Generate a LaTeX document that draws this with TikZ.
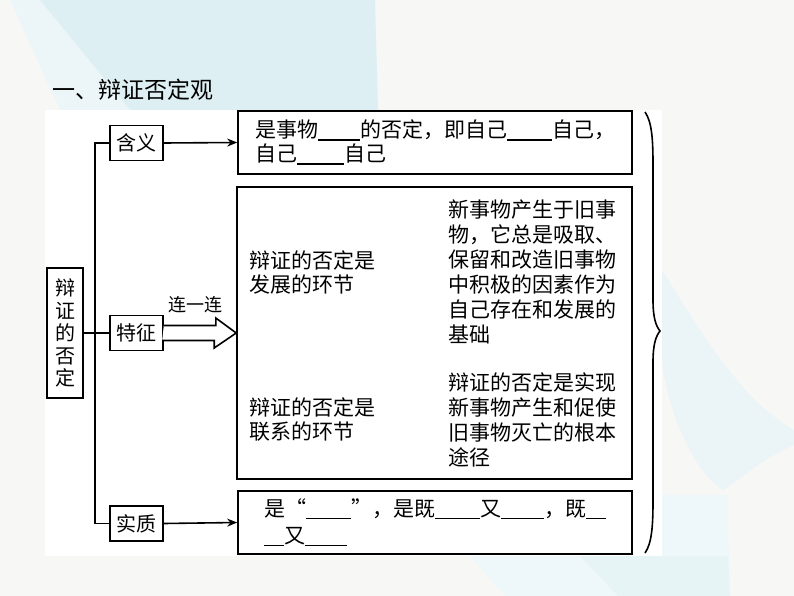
\documentclass[tikz,border=0pt]{standalone}
\usepackage{fontspec}
\setmainfont{Noto Sans CJK SC}
\usetikzlibrary{arrows.meta, positioning}
\definecolor{bggrey}{RGB}{247, 247, 245}
\definecolor{swoosh}{RGB}{221, 239, 242}
\newcommand{\blank}[1]{\rule[-3pt]{#1pt}{1.6pt}}

\begin{document}
\begin{tikzpicture}[
    x=1pt, y=-1pt,
    >=Stealth,
    catbox/.style={draw, line width=1.6pt, minimum width=53pt, minimum height=35pt, inner sep=0pt, font=\fontsize{20}{22}\selectfont},
    contentbox/.style={draw, line width=1.6pt, minimum width=394pt, minimum height=63pt, align=left, inner sep=0pt, font=\fontsize{21}{24}\selectfont},
    txt/.style={anchor=west, align=left, inner sep=0pt, font=\fontsize{21}{24}\selectfont},
    link/.style={line width=1.6pt},
    arrow/.style={-{Stealth[length=10pt, width=8pt]}, line width=1.6pt}
]

% === Fondo ===
\fill[bggrey] (0,0) rectangle (794,596);
\useasboundingbox (0,0) rectangle (794,596);
\fill[swoosh!55] (10,0) -- (40,0) -- (130,110) -- (60,110) -- cycle;
\fill[swoosh] (40,0) -- (375,0) -- (378,110) -- (130,110) -- cycle;
\fill[swoosh!60] (662,270) .. controls (700,330) and (740,400) .. (794,430) -- (794,445)
    .. controls (760,460) and (740,480) .. (723,490) .. controls (690,470) and (665,400) .. (662,360) -- cycle;
\fill[swoosh!50] (662,495) -- (727,495) -- (730,596) -- (505,596) -- (470,556) -- (662,556) -- cycle;
\fill[swoosh!70] (580,556) -- (728,556) -- (730,596) -- (618,596) -- cycle;

% Titulo
\node[anchor=west, inner sep=0pt, font=\fontsize{23}{23}\selectfont] (title) at (52,90) {一、辩证否定观};

% Panel blanco
\fill[white] (45,110) rectangle (662,556);

% === Nodos ===
\node[draw, line width=1.6pt, minimum width=36pt, minimum height=130pt, inner sep=0pt, align=center, font=\fontsize{20}{22.5}\selectfont] (root) at (65,333) {辩\\证\\的\\否\\定};

\node[catbox] (hanyi) at (136.5,143) {含义};
\node[catbox] (tezheng) at (136.5,333) {特征};
\node[catbox] (shizhi) at (136.5,523.5) {实质};

\node[contentbox] (def) at (435,142.5) {是事物\blank{42}的否定，即自己\blank{45}自己，\\自己\blank{47}自己};
\node[draw, line width=1.6pt, minimum width=395pt, minimum height=292pt, inner sep=0pt] (feat) at (434.5,333) {};
\node[contentbox, font=\fontsize{21}{27}\selectfont] (ess) at (435,522.5) {是“\blank{45}”，是既\blank{45}又\blank{43}，既\blank{20}\\\blank{20}又\blank{42}};

% Contenido del recuadro central
\node[txt] (fazhan) at (249,272) {辩证的否定是\\发展的环节};
\node[txt] (lianxi) at (249,420) {辩证的否定是\\联系的环节};
\node[txt, font=\fontsize{21}{25}\selectfont] (jichu) at (448,272) {新事物产生于旧事\\物，它总是吸取、\\保留和改造旧事物\\中积极的因素作为\\自己存在和发展的\\基础};
\node[txt, font=\fontsize{21}{25}\selectfont] (tujing) at (448,420) {辩证的否定是实现\\新事物产生和促使\\旧事物灭亡的根本\\途径};

% === Conexiones ===
\draw[link] (hanyi.west) -- ++(-14,0) |- (shizhi.west);
\draw[link] (root.east) -- (tezheng.west);
\draw[arrow] (hanyi.east) -- (def.west);
\draw[arrow] (shizhi.east) -- (ess.west);

% Flecha hueca "连一连"
\draw[line width=1.6pt, fill=white] (tezheng.east) ++(0,-7.5) -- ++(52,0) -- ++(0,-7.5) -- (feat.west)
    -- ++(-22,15) -- ++(0,-7.5) -- ++(-52,0);
\node[font=\fontsize{18}{18}\selectfont, inner sep=0pt] (lianlabel) at (195,305) {连一连};

% Llave derecha
\draw[line width=1.6pt] (645,112) .. controls (652,122) and (653,140) .. (653,165) -- (653,300)
    .. controls (653,318) and (656,326) .. (660,331) .. controls (656,336) and (653,344) .. (653,362)
    -- (653,500) .. controls (653,525) and (652,543) .. (645,553);

\end{tikzpicture}
\end{document}
